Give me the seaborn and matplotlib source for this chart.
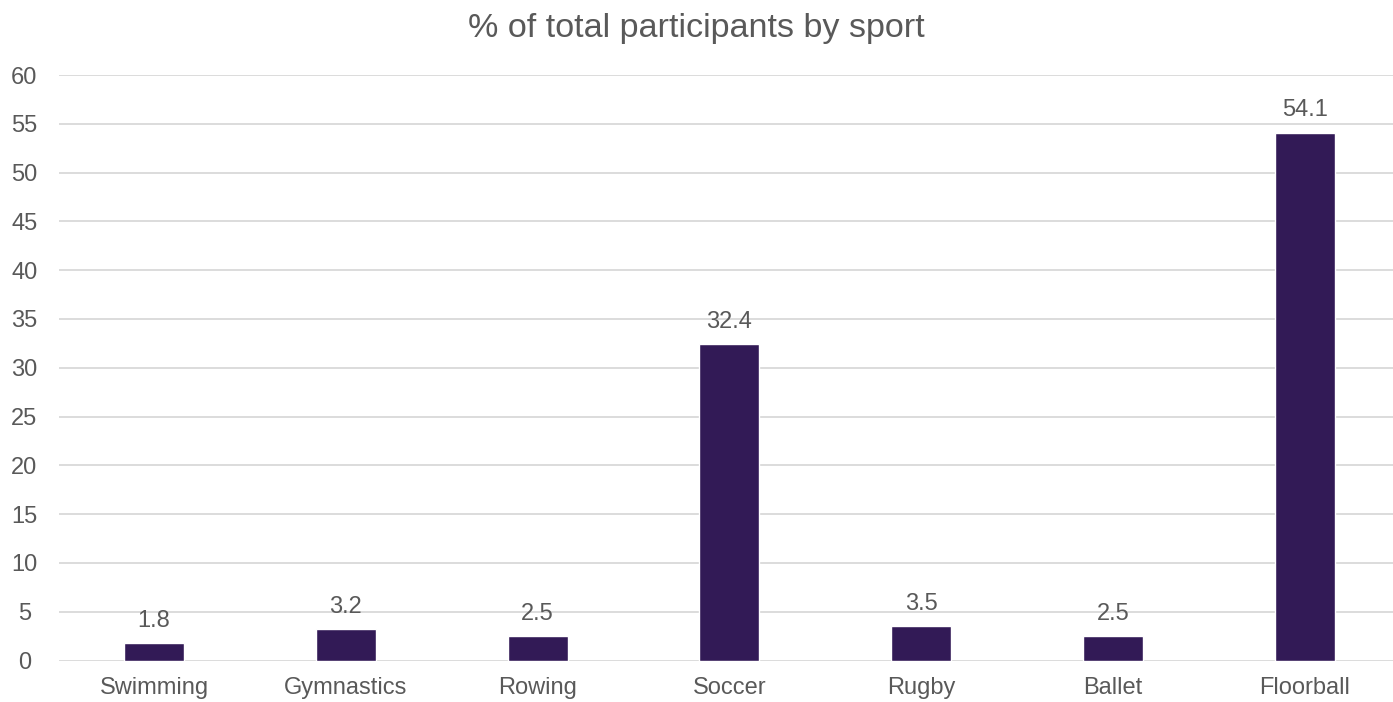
import matplotlib
matplotlib.use("Agg")
import matplotlib.pyplot as plt
import seaborn as sns
import pandas as pd

sports = ["Swimming", "Gymnastics", "Rowing", "Soccer", "Rugby", "Ballet", "Floorball"]
percent = [1.8, 3.2, 2.5, 32.4, 3.5, 2.5, 54.1]
yticks = [0, 5, 10, 15, 20, 25, 30, 35, 40, 45, 50, 55, 60]
title = "% of total participants by sport"

sns.set_theme(style="white")
plt.rcParams["font.family"] = ["Liberation Sans", "DejaVu Sans"]

text_color = "#595959"
bar_color = "#321A56"
grid_color = "#D9D9D9"

df = pd.DataFrame({"sport": sports, "pct": percent})

fig = plt.figure(figsize=(13.93, 7.02), dpi=100)
ax = fig.add_axes([59 / 1393, (702 - 660.5) / 702, 1334 / 1393, 585.5 / 702])

sns.barplot(data=df, x="sport", y="pct", color=bar_color, width=0.313,
            saturation=1, ax=ax, zorder=3)

ax.set_ylim(0, 60)
ax.set_yticks(yticks)
ax.set_xlim(-0.495, 6.459)
ax.yaxis.grid(True, color=grid_color, linewidth=1.3, zorder=0)
ax.xaxis.grid(False)
for s in ax.spines.values():
    s.set_visible(False)
ax.set_xlabel("")
ax.set_ylabel("")
ax.tick_params(axis="both", length=0, labelsize=17, labelcolor=text_color)
ax.tick_params(axis="y", pad=25)
ax.tick_params(axis="x", pad=12)
for lbl in ax.get_yticklabels():
    lbl.set_horizontalalignment("center")

for c in ax.containers:
    ax.bar_label(c, labels=[f"{v:.1f}" for v in percent], padding=8,
                 fontsize=17, color=text_color)

fig.text(0.5, 1 - 28 / 702, title, ha="center", va="center",
         fontsize=24.6, color=text_color)

fig.savefig("out.png", dpi=100)
